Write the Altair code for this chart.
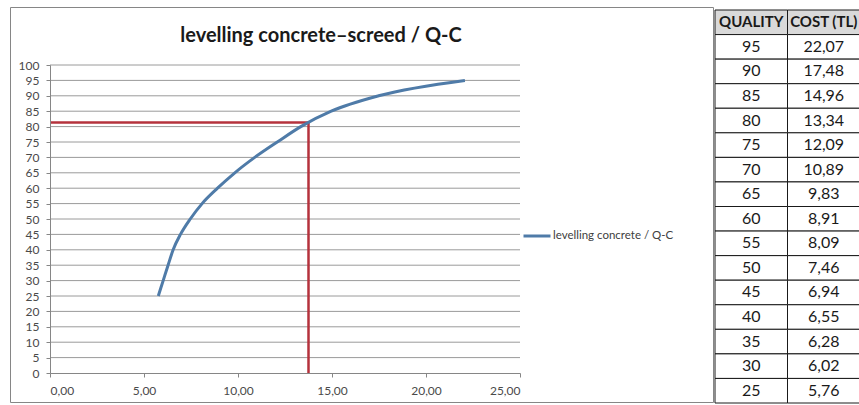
import altair as alt
import pandas as pd

# ---- data ----
quality = [95, 90, 85, 80, 75, 70, 65, 60, 55, 50, 45, 40, 35, 30, 25]
cost = [22.07, 17.48, 14.96, 13.34, 12.09, 10.89, 9.83, 8.91, 8.09, 7.46, 6.94, 6.55, 6.28, 6.02, 5.76]
cost_labels = ["22,07", "17,48", "14,96", "13,34", "12,09", "10,89", "9,83", "8,91",
               "8,09", "7,46", "6,94", "6,55", "6,28", "6,02", "5,76"]
header = ["QUALITY", "COST (TL)"]
grid_values = [5, 10, 15, 20, 25, 30, 35, 40, 45, 50, 55, 60, 65, 70, 75, 80, 85, 90, 95, 100]
x_ticks = [0, 5, 10, 15, 20, 25]
y_ticks = [0, 5, 10, 15, 20, 25, 30, 35, 40, 45, 50, 55, 60, 65, 70, 75, 80, 85, 90, 95, 100]
marker_cost = [13.75]
marker_quality = [81.3]
series_name = "levelling concrete / Q-C"
title_text = "levelling concrete\u2013screed  / Q-C"

FONT = "Lato"
W, H = 859, 405
XR = [50, 520]
YR = [373, 65]

xs = alt.Scale(domain=[0, 25], range=XR, nice=False, zero=False)
ys = alt.Scale(domain=[0, 100], range=YR, nice=False, zero=False)

x_axis = alt.Axis(
    values=x_ticks, offset=YR[0] - H, title=None, grid=False, zindex=1,
    labelExpr="replace(format(datum.value, '.2f'), '.', ',')",
    tickSize=4, labelPadding=8, domainColor="#868686", tickColor="#868686",
    labelFont=FONT, labelFontSize=12, labelColor="#4a4a4a")
y_axis = alt.Axis(
    values=y_ticks, offset=-XR[0], title=None, grid=False, zindex=1,
    tickSize=4, labelPadding=7, domainColor="#868686", tickColor="#868686",
    labelFont=FONT, labelFontSize=12, labelColor="#4a4a4a")

df = pd.DataFrame({"cost": cost, "quality": quality, "series": series_name})
grid_df = pd.DataFrame({"q": grid_values, "x0": 0, "x1": 25})
mk_df = pd.DataFrame({"c": marker_cost, "q": marker_quality, "zero": 0})

grid = alt.Chart(grid_df).mark_rule(color="#9a9a9a", strokeWidth=1).encode(
    x=alt.X("x0:Q", scale=xs, axis=x_axis),
    x2="x1:Q",
    y=alt.Y("q:Q", scale=ys, axis=y_axis),
)

red_h = alt.Chart(mk_df).mark_rule(color="#b5323c", strokeWidth=2.5).encode(
    x=alt.X("zero:Q", scale=xs, axis=x_axis),
    x2="c:Q",
    y=alt.Y("q:Q", scale=ys, axis=y_axis),
)
red_v = alt.Chart(mk_df).mark_rule(color="#b5323c", strokeWidth=2.5).encode(
    x=alt.X("c:Q", scale=xs, axis=x_axis),
    y=alt.Y("zero:Q", scale=ys, axis=y_axis),
    y2="q:Q",
)

line = alt.Chart(df).mark_line(strokeWidth=3, interpolate="monotone").encode(
    x=alt.X("cost:Q", scale=xs, axis=x_axis),
    y=alt.Y("quality:Q", scale=ys, axis=y_axis),
    color=alt.Color("series:N", scale=alt.Scale(range=["#4f7ba8"]), legend=alt.Legend(
        orient="none", legendX=522, legendY=221, title=None, symbolType="stroke",
        symbolSize=729, symbolStrokeWidth=3, labelFont=FONT, labelFontSize=11.5,
        labelColor="#404040", labelOffset=1, padding=0)),
)

main = alt.layer(grid, red_h, red_v, line)

border = alt.Chart(pd.DataFrame({"a": [0]})).mark_rect(
    fill="white", stroke="#868686", strokeWidth=1).encode(
    x=alt.value(10.5), x2=alt.value(713.5), y=alt.value(7.5), y2=alt.value(402.5))

title = alt.Chart(pd.DataFrame({"t": [title_text]})).mark_text(
    font=FONT, fontSize=20, fontWeight="bold", color="#1a1a1a", baseline="middle", align="center"
).encode(text="t:N", x=alt.value(321), y=alt.value(36))

# ---- table ----
rows = [{"row": 0, "col": "q", "text": header[0], "hdr": 1},
        {"row": 0, "col": "c", "text": header[1], "hdr": 1}]
for i, (q, c) in enumerate(zip(quality, cost_labels), start=1):
    rows.append({"row": i, "col": "q", "text": str(q), "hdr": 0})
    rows.append({"row": i, "col": "c", "text": c, "hdr": 0})
tdf = pd.DataFrame(rows)

tx = alt.Scale(domain=["q", "c"], range=[715, 860], paddingInner=0, paddingOuter=0)
ty = alt.Scale(domain=list(range(16)), range=[10, 403], paddingInner=0, paddingOuter=0)

cells = alt.Chart(tdf).mark_rect(stroke="#1a1a1a", strokeWidth=1).encode(
    x=alt.X("col:N", scale=tx, axis=None),
    y=alt.Y("row:O", scale=ty, axis=None),
    fill=alt.condition(alt.datum.hdr == 1, alt.value("#d9d9d9"), alt.value("white")),
)
body_text = alt.Chart(tdf).transform_filter(alt.datum.hdr == 0).mark_text(
    font=FONT, fontSize=16, color="#1a1a1a", baseline="middle").encode(
    x=alt.X("col:N", scale=tx, axis=None),
    y=alt.Y("row:O", scale=ty, axis=None),
    text="text:N",
)
head_text = alt.Chart(tdf).transform_filter(alt.datum.hdr == 1).mark_text(
    font=FONT, fontSize=15, fontWeight="bold", color="#1a1a1a", baseline="middle").encode(
    x=alt.X("col:N", scale=tx, axis=None),
    y=alt.Y("row:O", scale=ty, axis=None),
    text="text:N",
)
table = alt.layer(cells, body_text, head_text)

chart = alt.layer(border, title, main, table).resolve_scale(
    x="independent", y="independent"
).properties(
    width=W, height=H, padding=0, autosize=alt.AutoSizeParams(type="none"),
    background="white",
).configure_view(stroke=None)

chart.save("out.html", embed_options={"renderer": "svg", "actions": False})
